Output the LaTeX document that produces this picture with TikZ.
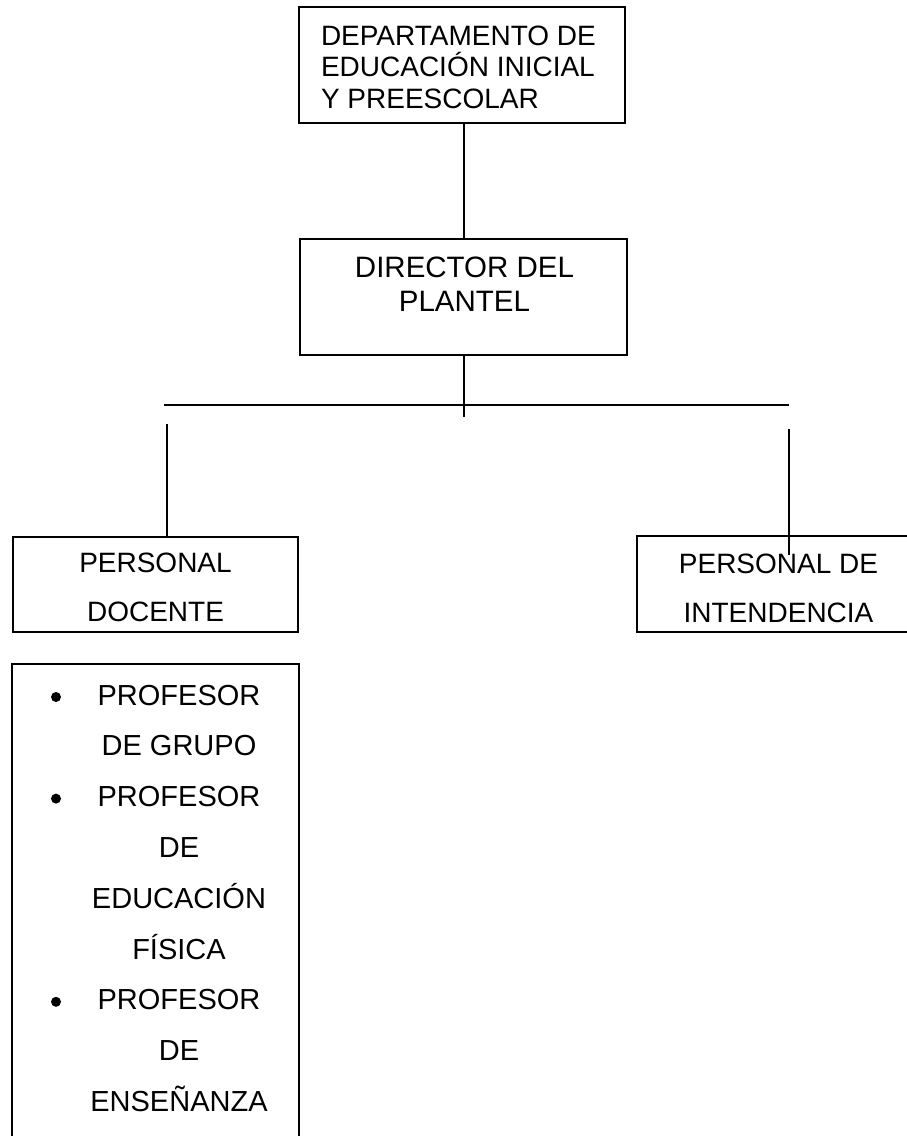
\documentclass[tikz,border=0pt]{standalone}
\usepackage{fontspec}
\setmainfont{Liberation Sans}
\begin{document}
\begin{tikzpicture}[x=1pt,y=-1pt,line width=2pt,
  frame/.style={draw,line width=2pt,inner sep=0pt},
  ghost/.style={inner sep=0pt},
  lbl/.style={inner sep=0pt,anchor=base},
  lblw/.style={inner sep=0pt,anchor=base west},
  dot/.style={circle,fill=black,inner sep=0pt,minimum size=10pt}]
\useasboundingbox (0,0) rectangle (907,1136);
\clip (0,0) rectangle (907,1136);

% boxes
\node[frame,minimum width=326pt,minimum height=116pt] (dept) at (462,65) {};
\node[frame,minimum width=327pt,minimum height=116pt] (dir) at (463.5,297) {};
\node[frame,minimum width=285pt,minimum height=95pt] (doc) at (155.5,584.5) {};
\node[ghost,minimum width=280pt,minimum height=94pt] (int) at (778,584) {};
\draw (int.north east) -- (int.north west) -- (int.south west) -- (int.south east);
\node[ghost,minimum width=285pt,minimum height=485pt] (lst) at (155.5,907.5) {};
\draw (lst.south west) -- (lst.north west) -- (lst.north east) -- (lst.south east);

% texts
\begin{scope}[font=\fontsize{28}{31}\selectfont]
\node[lblw] (d1) at (320,45) {DEPARTAMENTO DE};
\node[lblw] (d2) at (320,76.5) {EDUCACIÓN INICIAL};
\node[lblw] (d3) at (320,108) {Y PREESCOLAR};
\node[lbl] (p1) at (155.5,572) {PERSONAL};
\node[lbl] (p2) at (155.5,621) {DOCENTE};
\node[lbl] (i1) at (778.5,573) {PERSONAL DE};
\node[lbl] (i2) at (778.5,622) {INTENDENCIA};
\end{scope}
\begin{scope}[font=\fontsize{29.5}{34}\selectfont]
\node[lbl] (r1) at (464.5,277) {DIRECTOR DEL};
\node[lbl] (r2) at (464.5,311) {PLANTEL};
\end{scope}
\begin{scope}[font=\fontsize{29}{34}\selectfont]
\node[lbl] (l1) at (179,705) {PROFESOR};
\node[lbl] (l2) at (179,755.8) {DE GRUPO};
\node[lbl] (l3) at (179,806.6) {PROFESOR};
\node[lbl] (l4) at (179,857.4) {DE};
\node[lbl] (l5) at (179,908.2) {EDUCACIÓN};
\node[lbl] (l6) at (179,959) {FÍSICA};
\node[lbl] (l7) at (179,1009.8) {PROFESOR};
\node[lbl] (l8) at (179,1060.6) {DE};
\node[lbl] (l9) at (179,1111.4) {ENSEÑANZA};
\end{scope}
\node[dot] (b1) at (56,697) {};
\node[dot] (b2) at (56,798.6) {};
\node[dot] (b3) at (56,1001.8) {};

% connectors
\draw (dept.south -| dir.north) -- (dir.north);
\coordinate (drop) at (463.5,417);
\draw (dir.south) -- (drop);
\coordinate (busL) at (164,405);
\coordinate (busR) at (789,405);
\draw (busL) -- (busR);
\coordinate (lt) at (167,424);
\draw (lt) -- (lt |- doc.north);
\coordinate (rt) at (789,429);
\coordinate (rb) at (789,555);
\draw (rt) -- (rb);
\end{tikzpicture}
\end{document}
